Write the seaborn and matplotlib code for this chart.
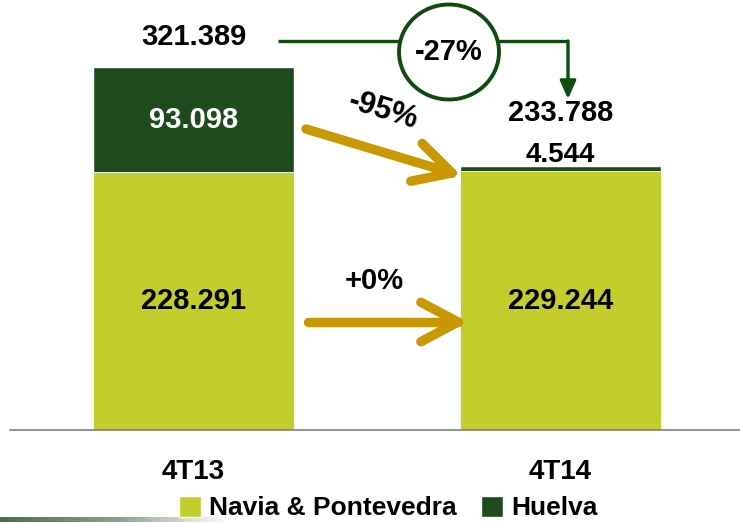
import numpy as np
import matplotlib
matplotlib.use("Agg")
import matplotlib.pyplot as plt
import seaborn as sns
from matplotlib.patches import Ellipse, Patch

# data (t)
periods = ["4T13", "4T14"]
navia = [228291, 229244]
huelva = [93098, 4544]
series_names = ["Navia & Pontevedra", "Huelva"]

navia_col = "#c3cd2b"
huelva_col = "#1f4a1e"
gold = "#c99700"
dkgreen = "#0f4a0f"

totals = [a + b for a, b in zip(navia, huelva)]

def fmt(v):
    return "{:,}".format(v).replace(",", ".")

def pct(a, b):
    p = round((b / a - 1) * 100)
    return ("+" if p >= 0 else "") + "{}%".format(p)

sns.set_theme(style="white")
plt.rcParams["font.family"] = ["Liberation Sans", "DejaVu Sans"]
plt.rcParams["font.weight"] = "bold"
plt.rcParams["text.color"] = "black"
plt.rcParams["xtick.color"] = "black"

fig = plt.figure(figsize=(7.4, 5.23), dpi=100)
ax = fig.add_axes([10 / 740, 93 / 523, 734 / 740, 430 / 523])

ymax = 430 / 1.1296 * 1000

# pixel -> data helper for the annotations
def px(xp, yp):
    return (xp - 193.5) / 367, (430 - yp) / 1.1296 * 1000

sns.barplot(x=periods, y=totals, color=huelva_col, saturation=1, width=0.545, ax=ax)
sns.barplot(x=periods, y=navia, color=navia_col, saturation=1, width=0.545, ax=ax,
            edgecolor="white", linewidth=0.6)
ax.set_xlim(-0.5, 1.5)
ax.set_ylim(0, ymax)

for s in ["top", "right", "left"]:
    ax.spines[s].set_visible(False)
ax.spines["bottom"].set_color("#7f7f7f")
ax.spines["bottom"].set_linewidth(1.2)
ax.set_yticks([])
ax.set_xlabel("")
ax.set_ylabel("")
ax.set_xticks([-0.5, 0.5, 1.5], minor=True)
ax.tick_params(axis="x", which="minor", length=11, width=1.2, color="#7f7f7f", direction="out")
ax.tick_params(axis="x", which="major", length=0, pad=21, labelsize=20, labelcolor="black")
for t in ax.get_xticklabels():
    t.set_fontweight("bold")

fs = 21
# values inside / above bars
for i in range(2):
    ax.text(i, navia[i] / 2, fmt(navia[i]), ha="center", va="center", fontsize=fs, fontweight="bold")
ax.text(0, navia[0] + huelva[0] / 2, fmt(huelva[0]), ha="center", va="center", fontsize=fs, fontweight="bold", color="white")
ax.text(1, totals[1] + 9600, fmt(huelva[1]), ha="center", va="center", fontsize=fs - 1, fontweight="bold")
ax.text(1, totals[1] + 47000, fmt(totals[1]), ha="center", va="center", fontsize=fs, fontweight="bold")
ax.text(0, totals[0] + 26500, fmt(totals[0]), ha="center", va="center", fontsize=fs, fontweight="bold")

# gold chevron arrows (shaft + two arms), drawn in pixel space
def chevron(start, tip, arm=42, ang=28):
    sx, sy = start
    tx, ty = tip
    d = np.arctan2(ty - sy, tx - sx)
    pts = []
    for a in (ang, -ang):
        r = d + np.pi + np.radians(a)
        pts.append((tx + arm * np.cos(r), ty + arm * np.sin(r)))
    kw = dict(color=gold, lw=6.8, solid_capstyle="round", solid_joinstyle="round", clip_on=False, zorder=3)
    for p0, p1 in [(start, tip), (pts[0], tip), (pts[1], tip)]:
        a0 = px(*p0)
        a1 = px(*p1)
        ax.plot([a0[0], a1[0]], [a0[1], a1[1]], **kw)

chevron((306, 129), (452, 173))
chevron((308, 322), (458, 322))

tx, ty = px(383, 111)
ax.text(tx, ty, pct(huelva[0], huelva[1]), rotation=-17, ha="center", va="center", fontsize=fs + 1, fontweight="bold")
tx, ty = px(374, 281)
ax.text(tx, ty, pct(navia[0], navia[1]), ha="center", va="center", fontsize=fs, fontweight="bold")

# total change bracket
lx0, ly = px(278, 41)
lx1, _ = px(568, 41)
_, ly2 = px(568, 99)
ax.plot([lx0, lx1], [ly, ly], color=dkgreen, lw=2.4, clip_on=False, solid_capstyle="butt", zorder=3)
ax.annotate("", xy=(lx1, ly2), xytext=(lx1, ly),
            arrowprops=dict(arrowstyle="-|>,head_length=0.9,head_width=0.4", color=dkgreen, lw=2.4,
                            shrinkA=0, shrinkB=0), annotation_clip=False)
cx, cy = px(449, 52)
ell = Ellipse((cx, cy), width=100 / 367, height=95 / 1.1296 * 1000, facecolor="white",
              edgecolor=dkgreen, lw=2.8, zorder=4, clip_on=False)
ax.add_patch(ell)
ax.text(cx, cy, pct(totals[0], totals[1]), ha="center", va="center", fontsize=fs, fontweight="bold", zorder=5)

# legend
handles = [Patch(facecolor=navia_col, label=series_names[0]), Patch(facecolor=huelva_col, label=series_names[1])]
fig.legend(handles=handles, loc="center", bbox_to_anchor=(388 / 740, 15 / 523), ncol=2, frameon=False,
           prop=dict(size=19, weight="bold"), handlelength=0.85, handleheight=0.85, handletextpad=0.3,
           columnspacing=0.9)

# footer swoosh
sw = fig.add_axes([0, 1 / 523, 230 / 740, 5 / 523])
grad = np.linspace(0, 1, 256).reshape(1, -1)
cmap = matplotlib.colors.LinearSegmentedColormap.from_list("sw", ["#4d6e4d", "#8aa08a", "#ffffff"])
sw.imshow(grad, aspect="auto", cmap=cmap)
sw.axis("off")

fig.savefig("out.png", dpi=100)
